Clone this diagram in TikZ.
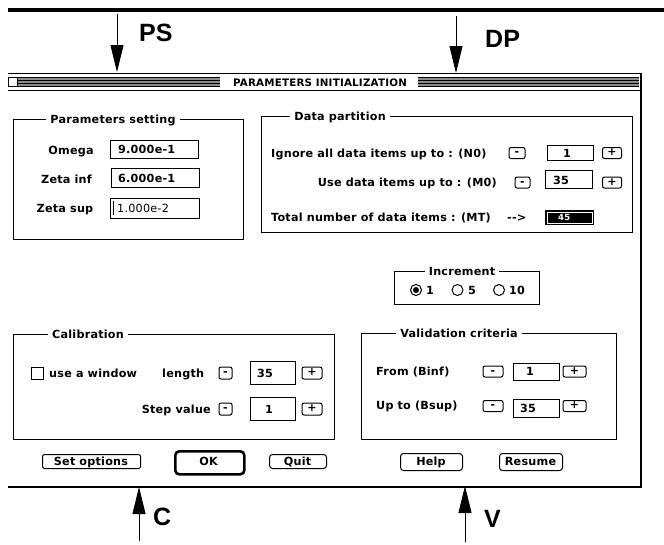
\documentclass[tikz,border=0pt]{standalone}
\usepackage{fontspec}
\usetikzlibrary{arrows.meta}
\newfontfamily\chic[LetterSpace=2]{DejaVu Sans}
\newfontfamily\helv{Liberation Sans}
\begin{document}
\begin{tikzpicture}[x=1pt,y=-1pt,
  ui/.style={font=\chic\bfseries\fontsize{11.2}{13}\selectfont, inner sep=0pt},
  uil/.style={ui, anchor=base west},
  uic/.style={ui, anchor=base},
  uir/.style={ui, anchor=base east},
  gtitle/.style={ui, anchor=base, fill=white, inner xsep=4pt, inner ysep=1pt},
  grp/.style={draw, line width=1pt},
  field/.style={draw, line width=1.2pt, inner sep=0pt, anchor=north west},
  pm/.style={draw, line width=1pt, rounded corners=2pt, inner sep=0pt, text height=0.55em, text depth=0pt,
     font=\chic\bfseries\fontsize{11}{11}\selectfont},
  btn/.style={draw, line width=1pt, rounded corners=3pt, inner sep=0pt, anchor=north west},
  lbl/.style={font=\helv\bfseries\fontsize{25}{28}\selectfont, inner sep=0pt, anchor=base west},
  callout/.style={line width=0.8pt, -{Triangle[width=13pt,length=27pt]}},
  stripe/.style={line width=1pt}
]
\useasboundingbox (0,0) rectangle (664,544);

% top rule
\coordinate (tl) at (8,10); \coordinate (tr) at (664,10);
\draw[line width=4pt] (tl) -- (tr);

% callouts
\node[lbl] (PS) at (139,41) {PS};
\coordinate (psS) at (117,14); \coordinate (psE) at (117,72);
\draw[callout] (psS) -- (psE);
\node[lbl] (DP) at (485,47) {DP};
\coordinate (dpS) at (456,16); \coordinate (dpE) at (456,73);
\draw[callout] (dpS) -- (dpE);
\node[lbl] (C) at (153,525) {C};
\coordinate (cS) at (139,541); \coordinate (cE) at (139,487);
\draw[callout] (cS) -- (cE);
\node[lbl] (V) at (484,527) {V};
\coordinate (vS) at (465,542); \coordinate (vE) at (465,486);
\draw[callout] (vS) -- (vE);

% window title bar
\draw[line width=1pt] (8,73.5) -- (641,73.5);
\draw[line width=1pt] (8,90.5) -- (641,90.5);
\fill[black!45] (17,77) rectangle (220,87);
\fill[black!45] (418,77) rectangle (639,87);
\foreach \yy in {77.5,80.5,83.5,86.5} {
  \draw[stripe] (17,\yy) -- (220,\yy);
  \draw[stripe] (418,\yy) -- (639,\yy);
}
\draw[line width=1pt, fill=white] (8.5,77.5) rectangle (17,86.5);
\node[uic, font=\chic\bfseries\fontsize{10.3}{11}\selectfont] (title) at (320,86) {PARAMETERS INITIALIZATION};
\draw[line width=2pt] (641,73) -- (641,487);
\draw[line width=1.2pt] (8,487) -- (642,487);

% Parameters setting
\draw[grp] (13,119) rectangle (243,239);
\node[gtitle] (psT) at (113,123) {Parameters setting};
\node[uic] (omL) at (71,154.5) {Omega};
\node[field, minimum width=88pt, minimum height=18pt] (omF) at (110,140) {};
\node[uil] (omV) at (118,153.5) {9.000e-1};
\node[uic] (ziL) at (66.5,183) {Zeta inf};
\node[field, minimum width=88pt, minimum height=19pt] (ziF) at (111,168) {};
\node[uil] (ziV) at (118,182) {6.000e-1};
\node[uic] (zsL) at (65,212) {Zeta sup};
\node[field, minimum width=89pt, minimum height=20pt] (zsF) at (110,198) {};
\draw[line width=1pt] (113.5,201) -- (113.5,215);
\node[uil, font=\chic\fontsize{11.2}{13}\selectfont] (zsV) at (117,212) {1.000e-2};

% Data partition
\draw[grp] (261,116) rectangle (632,232);
\node[gtitle] (dpT) at (340,120) {Data partition};
\node[uil] (n0L) at (271,157) {Ignore all data items up to : (N0)};
\node[pm, minimum width=16pt, minimum height=11pt] (n0m) at (517,153) {-};
\node[field, minimum width=46pt, minimum height=15pt] (n0F) at (547,145) {};
\node[uil] (n0V) at (563,157) {1};
\node[pm, minimum width=19pt, minimum height=11pt] (n0p) at (612,153) {+};
\node[uir] (m0L) at (497,186.5) {Use data items up to : (M0)};
\node[pm, minimum width=15pt, minimum height=11pt] (m0m) at (522.5,182.5) {-};
\node[field, minimum width=47pt, minimum height=18pt] (m0F) at (545,170) {};
\node[uil] (m0V) at (553,184) {35};
\node[pm, minimum width=19pt, minimum height=11pt] (m0p) at (612,182.5) {+};
\node[uil] (mtL) at (271,221.5) {Total number of data items : (MT)};
\node[uil] (arr) at (507,221.5) {-{}->};
\node[draw, fill=black, line width=1pt, inner sep=0pt, minimum width=48pt, minimum height=14pt, anchor=north west] (mtF) at (545,210) {};
\draw[white, line width=0.8pt] ([shift={(2,2)}]mtF.north west) rectangle ([shift={(-2,-2)}]mtF.south east);
\node[uil, text=white, font=\chic\bfseries\fontsize{8.5}{9}\selectfont] (mtV) at (558,220.5) {45};

% Increment
\draw[grp] (394,271) rectangle (539,304);
\node[gtitle] (inT) at (462,275) {Increment};
\node[draw, circle, line width=1pt, minimum size=11pt, inner sep=0pt] (r1) at (416,290) {};
\fill (r1.center) circle (3pt);
\node[uil] (r1L) at (426,294) {1};
\node[draw, circle, line width=1pt, minimum size=11pt, inner sep=0pt] (r5) at (457.5,290) {};
\node[uil] (r5L) at (468,294) {5};
\node[draw, circle, line width=1pt, minimum size=11pt, inner sep=0pt] (r10) at (499,290) {};
\node[uil] (r10L) at (509,294) {10};

% Calibration
\draw[grp] (13,334) rectangle (334,439);
\node[gtitle] (caT) at (88,338) {Calibration};
\node[draw, line width=1pt, minimum size=12pt, inner sep=0pt] (cb) at (37,373) {};
\node[uil] (cbL) at (49,377) {use a window};
\node[uil] (lenL) at (162,377) {length};
\node[pm, minimum width=13pt, minimum height=12pt] (lenm) at (225.5,373) {-};
\node[field, minimum width=45pt, minimum height=23pt] (lenF) at (250,361) {};
\node[uil] (lenV) at (257,377) {35};
\node[pm, minimum width=20pt, minimum height=12pt] (lenp) at (312,373) {+};
\node[uir] (stL) at (211,413) {Step value};
\node[pm, minimum width=13pt, minimum height=12pt] (stm) at (225.5,409) {-};
\node[field, minimum width=45pt, minimum height=23pt] (stF) at (250,397) {};
\node[uil] (stV) at (265,413) {1};
\node[pm, minimum width=20pt, minimum height=12pt] (stp) at (312,409) {+};

% Validation criteria
\draw[grp] (361,333) rectangle (616,439);
\node[gtitle] (vaT) at (459,337) {Validation criteria};
\node[uil] (biL) at (376,375) {From (Binf)};
\node[pm, minimum width=20pt, minimum height=11pt] (bim) at (493,371.5) {-};
\node[field, minimum width=46pt, minimum height=17pt] (biF) at (513,363) {};
\node[uil] (biV) at (526,375.5) {1};
\node[pm, minimum width=23pt, minimum height=11pt] (bip) at (574.5,371.5) {+};
\node[uil] (bsL) at (376,409) {Up to (Bsup)};
\node[pm, minimum width=20pt, minimum height=11pt] (bsm) at (493,406) {-};
\node[field, minimum width=46pt, minimum height=18pt] (bsF) at (513,399) {};
\node[uil] (bsV) at (520,412) {35};
\node[pm, minimum width=23pt, minimum height=11pt] (bsp) at (574.5,406) {+};

% bottom buttons
\node[btn, rounded corners=1.5pt, minimum width=98pt, minimum height=14pt] (setB) at (42,454) {};
\node[uic] at (91,465) {Set options};
\node[btn, line width=2.6pt, rounded corners=4pt, minimum width=69pt, minimum height=23pt] (okB) at (174,450) {};
\node[uic] at (208.5,465) {OK};
\node[btn, minimum width=57pt, minimum height=14pt] (quitB) at (269,454) {};
\node[uic] at (297.5,465) {Quit};
\node[btn, minimum width=62pt, minimum height=17pt] (helpB) at (400,453) {};
\node[uic] at (431,465.5) {Help};
\node[btn, minimum width=63pt, minimum height=17pt] (resB) at (499,453) {};
\node[uic] at (530.5,465.5) {Resume};
\end{tikzpicture}
\end{document}
